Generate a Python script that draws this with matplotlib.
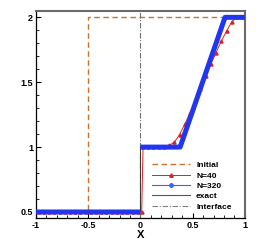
import numpy as np
import matplotlib
matplotlib.use("Agg")
import matplotlib.pyplot as plt
from matplotlib.lines import Line2D
from matplotlib.ticker import MultipleLocator

plt.rcParams['font.family'] = ['Liberation Sans', 'DejaVu Sans']

# Initial condition
x_init = [-1.0, -0.5, -0.5, 1.0]
y_init = [0.5, 0.5, 2.0, 2.0]

# Exact solution
x_exact = [-1.0, 0.0, 0.0, 0.38, 0.81, 1.0]
y_exact = [0.5, 0.5, 1.0, 1.0, 2.0, 2.0]

# N=320 (dense, visually coincides with exact; drawn as band segments)
x_320 = [-1.0, 0.0, np.nan, 0.0, 0.38, 0.81, 1.0]
y_320 = [0.5, 0.5, np.nan, 1.0, 1.0, 2.0, 2.0]

# N=40 cell values
x_40 = [-0.975, -0.925, -0.875, -0.825, -0.775, -0.725, -0.675, -0.625, -0.575, -0.525,
        -0.475, -0.425, -0.375, -0.325, -0.275, -0.225, -0.175, -0.125, -0.075, -0.025,
        0.012, 0.025, 0.075, 0.125, 0.175, 0.225, 0.275, 0.325, 0.375, 0.425, 0.475,
        0.525, 0.575, 0.625, 0.675, 0.725, 0.775, 0.825, 0.875, 0.925, 0.975]
y_40 = [0.5] * 20 + [0.5, 1.0, 1.0, 1.0, 1.0, 1.0, 1.013, 1.038, 1.097, 1.177, 1.264,
                     1.359, 1.446, 1.546, 1.644, 1.728, 1.818, 1.895, 1.967, 2.0, 2.0]

x_interface = 0.0

fig = plt.figure(figsize=(2.77, 2.46), dpi=100)
ax = fig.add_axes([0.13, 0.114, 0.754, 0.842])

ax.plot(x_init, y_init, ls=(0, (4, 2.5)), color='#c8742c', lw=1.0, zorder=2)
ax.axvline(x_interface, ls=(0, (5, 1.5, 1, 1.5)), color='#707070', lw=0.8, zorder=2)
ax.plot(x_exact, y_exact, color='#303030', lw=0.7, zorder=3)
ax.plot(x_40, y_40, color='#e02020', lw=0.7, marker='^', ms=2.2, zorder=3.5)
ax.plot(x_320, y_320, color='#2036f0', lw=3.6, zorder=4, solid_capstyle='butt')

ax.set_xlim(-1, 1)
ax.set_ylim(0.454, 2.05)
ax.xaxis.set_minor_locator(MultipleLocator(0.1))
ax.yaxis.set_minor_locator(MultipleLocator(0.1))
ax.set_xticks([-1, -0.5, 0, 0.5, 1])
ax.set_xticklabels(['-1', '-0.5', '0', '0.5', '1'])
ax.set_yticks([0.5, 1, 1.5, 2])
ax.set_yticklabels(['0.5', '1', '1.5', '2'])
ax.tick_params(which='both', direction='in', top=False, right=False, labelsize=6.5, pad=2)
ax.tick_params(which='major', length=3.5, width=0.8)
ax.tick_params(which='minor', length=2, width=0.6)
for lab in ax.get_xticklabels() + ax.get_yticklabels():
    lab.set_fontweight('bold')
ax.set_xlabel('X', fontsize=8, fontweight='bold', labelpad=0)

for s in ['left', 'bottom']:
    ax.spines[s].set_color('black')
    ax.spines[s].set_linewidth(0.9)
for s in ['top', 'right']:
    ax.spines[s].set_color('#6a6a6a')
    ax.spines[s].set_linewidth(1.5)

handles = [
    Line2D([], [], ls=(0, (4, 2.5)), color='#c8742c', lw=1.0),
    Line2D([], [], color='#e02020', lw=0.7, marker='^', ms=2.5),
    Line2D([], [], color='#4060ff', lw=0.8, marker='o', ms=2.5),
    Line2D([], [], color='#555555', lw=0.8),
    Line2D([], [], ls=(0, (5, 1.5, 1, 1.5)), color='#808080', lw=0.8),
]
labels = ['Initial', 'N=40', 'N=320', 'exact', 'Interface']
leg = ax.legend(handles, labels, loc='lower left', bbox_to_anchor=(0.555, 0.035),
                frameon=False, fontsize=6, handlelength=4.6, handletextpad=0.7,
                labelspacing=0.3, borderaxespad=0, borderpad=0)
for t in leg.get_texts():
    t.set_fontweight('bold')

fig.savefig('out.png', dpi=100)
